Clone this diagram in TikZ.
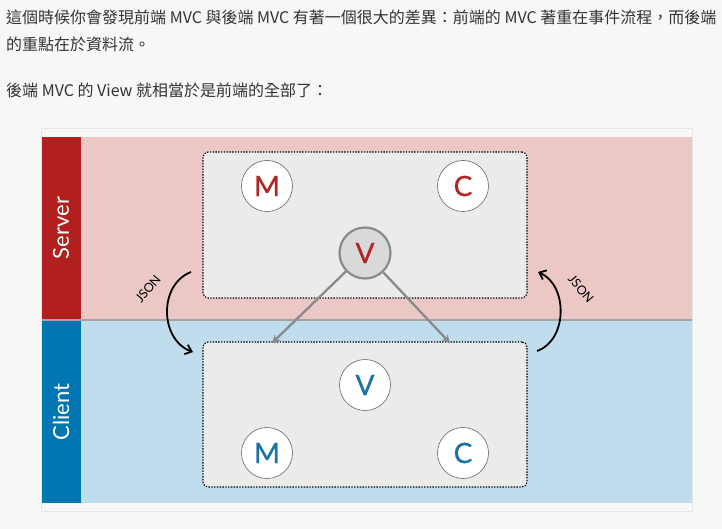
\documentclass[tikz,border=0pt]{standalone}
\usepackage{fontspec}
\setmainfont{Lato}
\newfontfamily\cjk{Noto Sans CJK TC}
\newfontfamily\mvcfont[FakeBold=0.7]{Lato}
\usetikzlibrary{arrows.meta}
\usetikzlibrary{shapes}
\usetikzlibrary{positioning}
\usetikzlibrary{backgrounds}

\definecolor{pagebg}{HTML}{F7F7F7}
\definecolor{bodytext}{HTML}{333333}
\definecolor{cardline}{HTML}{E6E6E6}
\definecolor{serverred}{HTML}{B21F1F}
\definecolor{serverbg}{HTML}{EBC7C6}
\definecolor{clientblue}{HTML}{0076B3}
\definecolor{clientbg}{HTML}{BFDDED}
\definecolor{boxbg}{HTML}{EBEBEB}
\definecolor{divider}{HTML}{A3A3A3}
\definecolor{arrowgrey}{HTML}{8A8A8A}
\definecolor{letterred}{HTML}{B52424}
\definecolor{letterblue}{HTML}{1A72A6}

\begin{document}
\begin{tikzpicture}[x=1pt,y=-1pt]
        \useasboundingbox[fill=pagebg] (0,0) rectangle (722,529);
        \begin{scope}[every node/.style={anchor=west,inner sep=0pt,text=bodytext,
            font=\cjk\fontsize{16}{20}\selectfont}]
            \node (line1) at (6,17) {這個時候你會發現前端 MVC 與後端 MVC 有著一個很大的差異：前端的 MVC 著重在事件流程，而後端};
            \node (line2) at (6,44) {的重點在於資料流。};
            \node (line3) at (6,90) {後端 MVC 的 View 就相當於是前端的全部了：};
        \end{scope}
        % card and the two bands
        \draw[cardline,fill=pagebg] (41.5,128.5) rectangle (692,511.5);
        \fill[serverbg] (42,137) rectangle (692,320);
        \fill[clientbg] (42,320) rectangle (692,503);
        \fill[serverred] (42,137) rectangle (81,320);
        \fill[clientblue] (42,320) rectangle (81,503);
        \draw[divider,line width=2.5pt] (42,320) -- (692,320);
        \node[rotate=90,text=white,font=\fontsize{22}{26}\selectfont] (server) at (61,228) {Server};
        \node[rotate=90,text=white,font=\fontsize{22}{26}\selectfont] (client) at (61,412) {Client};
        \begin{scope}[every node/.style={rectangle,rounded corners=5pt,draw=black,
            line width=1.1pt,dash pattern=on 1.4pt off 1.4pt,
            fill=boxbg,minimum width=324pt,inner sep=0pt}]
            \node[minimum height=146pt] (sbox) at (365,225) {};
            \node[minimum height=145pt] (cbox) at (365,414.5) {};
        \end{scope}
        \begin{scope}[every node/.style={circle,draw=black!60,line width=0.6pt,fill=white,
            minimum size=51pt,inner sep=0pt,font=\mvcfont\fontsize{28}{28}\selectfont}]
            \node[text=letterred] (sM) at (267,186) {M};
            \node[text=letterred] (sC) at (463,186) {C};
            \node[text=letterred,fill=black!15,draw=arrowgrey,line width=2.2pt] (sV) at (365,253) {V};
            \node[text=letterblue] (cV) at (365,385) {V};
            \node[text=letterblue] (cM) at (267,453) {M};
            \node[text=letterblue] (cC) at (463,453) {C};
        \end{scope}
        \coordinate (tipL) at (272,343);
        \coordinate (tipR) at (450,343);
        \coordinate (jsonLa) at (191,272);
        \coordinate (jsonLb) at (193,352);
        \coordinate (jsonRa) at (537,351);
        \coordinate (jsonRb) at (538,272);
        \begin{scope}[>={Stealth[length=8pt,width=8pt]},
            every edge/.style={draw=arrowgrey,line width=2.3pt}]
            \path [->] (sV) edge node {} (tipL);
            \path [->] (sV) edge node {} (tipR);
        \end{scope}
        \begin{scope}[>={Straight Barb[length=6pt,width=10pt]},line width=1.8pt]
            \draw [->] (jsonLa) .. controls (158,285) and (160,340) .. (jsonLb);
            \draw [->] (jsonRa) .. controls (568,340) and (568,285) .. (jsonRb);
        \end{scope}
        \node[rotate=50,font=\fontsize{12.5}{13}\selectfont,inner sep=1pt] (jsonL) at (148,289) {JSON};
        \node[rotate=-50,font=\fontsize{12.5}{13}\selectfont,inner sep=1pt] (jsonR) at (581,289) {JSON};
    \end{tikzpicture}
\end{document}
